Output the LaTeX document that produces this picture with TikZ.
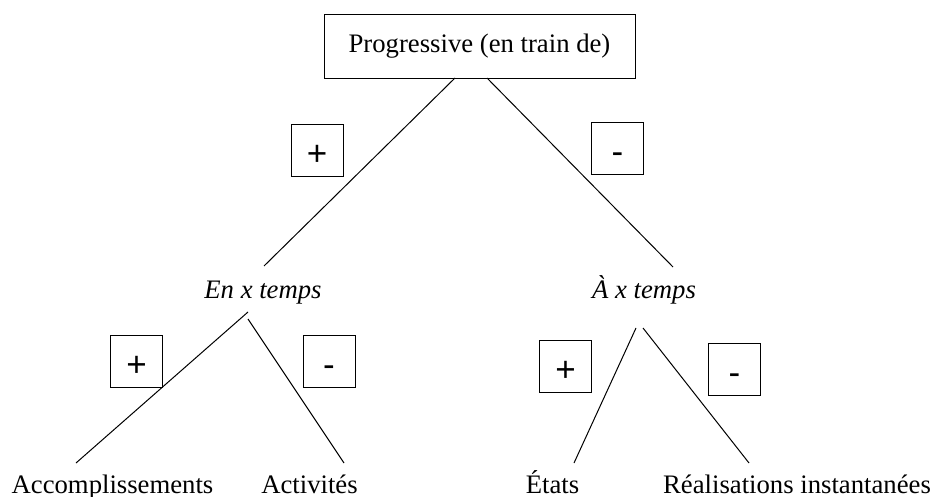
\documentclass[tikz,border=0pt]{standalone}
\usepackage{fontspec}
\setmainfont{Liberation Serif}
\newfontfamily\signfont{Liberation Sans}
\begin{document}
\begin{tikzpicture}[x=1pt,y=-1pt,
  lbl/.style={font=\fontsize{26.7}{32}\selectfont, inner sep=0pt, anchor=base},
  signbox/.style={draw, line width=0.9pt, minimum width=52pt, minimum height=52pt, inner sep=0pt, text height=30pt, text depth=0pt, font=\signfont\fontsize{35}{40}\selectfont},
  branch/.style={line width=1pt}]
\useasboundingbox (0,0) rectangle (941,497);
% top box
\node[draw, line width=0.9pt, minimum width=311pt, minimum height=64pt, inner sep=0pt, font=\fontsize{26.7}{32}\selectfont] (top) at (479.5,46) {Progressive (en train de)};
% labels
\node[lbl] (en) at (263,298) {\itshape En x temps};
\node[lbl] (a) at (644,298) {\itshape À x temps};
\node[lbl] (acc) at (112.5,493) {Accomplissements};
\node[lbl] (act) at (309.5,493) {Activités};
\node[lbl] (eta) at (552.5,493) {États};
\node[lbl] (rea) at (797,493) {Réalisations instantanées};
% sign boxes
\node[signbox] (p1) at (317,150) {+};
\node[signbox] (m1) at (617.5,148.5) {-};
\node[signbox] (p2) at (136.5,361) {+};
\node[signbox] (m2) at (329,361) {-};
\node[signbox] (p3) at (565.5,366.5) {+};
\node[signbox] (m3) at (734.5,369) {-};
% connector endpoints
\coordinate (tl) at (455,78);
\coordinate (tr) at (487,78);
\coordinate (enT) at (264,266);
\coordinate (aT) at (673,267);
\coordinate (enL) at (248,312);
\coordinate (enR) at (248,319);
\coordinate (accT) at (76,463);
\coordinate (actT) at (344,463);
\coordinate (aL) at (636,328);
\coordinate (aR) at (643,328);
\coordinate (etaT) at (574,463);
\coordinate (reaT) at (749,463);
% connectors
\draw[branch] (tl) -- (enT);
\draw[branch] (tr) -- (aT);
\draw[branch] (enL) -- (accT);
\draw[branch] (enR) -- (actT);
\draw[branch] (aL) -- (etaT);
\draw[branch] (aR) -- (reaT);
\end{tikzpicture}
\end{document}
